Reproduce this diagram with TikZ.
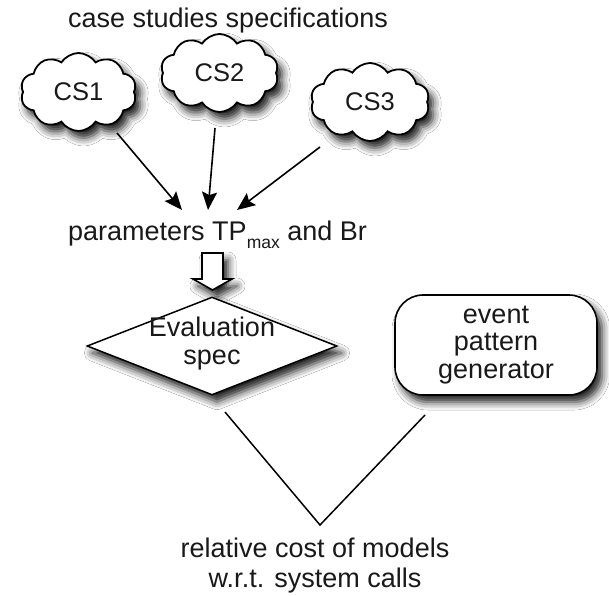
\documentclass[tikz,border=0pt]{standalone}
\usepackage{fontspec}
\setmainfont{Liberation Sans}
\usetikzlibrary{shapes.symbols,shapes.geometric,arrows.meta,shadows.blur}
\tikzset{
  shad/.style={blur shadow={shadow xshift=5pt, shadow yshift=-7pt, shadow blur radius=8pt, shadow opacity=90}},
  txt/.style={font=\fontsize{27}{28}\selectfont, inner sep=0pt, text=black!90},
  cloudbox/.style={cloud, cloud puffs=10, cloud puff arc=115, cloud ignores aspect, draw=black, line width=1.8pt, fill=white, inner sep=0pt, font=\fontsize{25.5}{27}\selectfont, text=black!90, shad},
  diamondbox/.style={diamond, draw=black, line width=1.5pt, fill=white, inner sep=0pt, minimum width=250pt, minimum height=98pt, shad},
  roundbox/.style={rectangle, rounded corners=28pt, draw=black, line width=1.6pt, fill=white, minimum width=202pt, minimum height=100pt, align=center, font=\fontsize{27}{27.5}\selectfont, text=black!90, shad},
  arr/.style={line width=1.6pt, -{Stealth[length=18pt,width=15pt,inset=3pt]}},
  plain/.style={line width=1.5pt}
}
\begin{document}
\begin{tikzpicture}[x=1pt,y=-1pt]
\useasboundingbox (0,0) rectangle (609,595);
\fill[white] (0,0) rectangle (609,595);
% title
\node[txt, anchor=base west] (title) at (68,27) {case studies specifications};
% clouds
\node[cloudbox, minimum width=116pt, minimum height=78pt] (cs1) at (78.5,92) {CS1};
\node[cloudbox, minimum width=118pt, minimum height=78pt] (cs2) at (219.5,73) {CS2};
\node[cloudbox, minimum width=119pt, minimum height=78pt] (cs3) at (370,102) {CS3};
% parameters
\node[txt, anchor=base west] (params) at (68,240) {parameters TP\raisebox{-8pt}{\fontsize{17.5}{18}\selectfont max} and Br};
% arrows
\coordinate (a1s) at (117,133);
\coordinate (a1e) at (182,210);
\coordinate (a2s) at (215,128);
\coordinate (a2e) at (208,210);
\coordinate (a3s) at (320,147);
\coordinate (a3e) at (237,210);
\draw[arr] (a1s) -- (a1e);
\draw[arr] (a2s) -- (a2e);
\draw[arr] (a3s) -- (a3e);
% hollow arrow
\draw[line width=1.6pt, fill=white, line join=miter, shad]
  (202,253) -- (223,253) -- (223,279) -- (232,279) -- (212.5,290) -- (193,279) -- (202,279) -- cycle;
% diamond
\node[diamondbox] (eval) at (212,346) {};
\node[txt, align=center, font=\fontsize{27}{28}\selectfont] (evaltext) at (212,344) {Evaluation\\spec};
% event pattern generator
\node[roundbox] (gen) at (496,345) {event\\pattern\\generator};
% V lines
\coordinate (vl) at (225,412);
\coordinate (vm) at (320,525);
\coordinate (vr) at (425,415);
\draw[plain] (vl) -- (vm) -- (vr);
% result
\node[txt, align=center, anchor=base, font=\fontsize{27}{30}\selectfont] (result) at (315,587) {relative cost of models\\w.r.t. system calls};
\end{tikzpicture}
\end{document}
